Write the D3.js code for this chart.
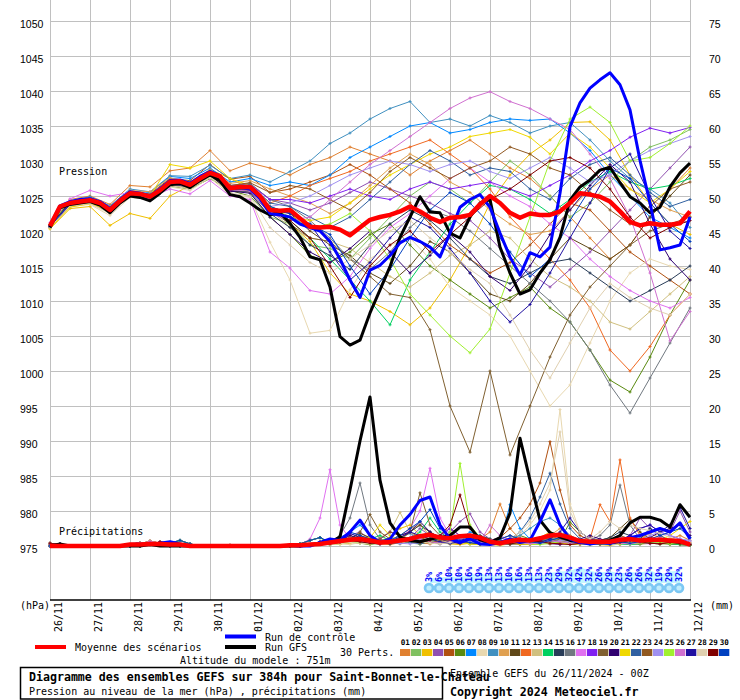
<!DOCTYPE html>
<html><head><meta charset="utf-8">
<script src="https://cdn.jsdelivr.net/npm/d3@7"></script>
<style>body{margin:0;background:#fff}svg{display:block}</style>
</head><body><svg id="c" width="740" height="700"></svg>
<script>
// ---------- labels ----------
const dates = ["26/11","27/11","28/11","29/11","30/11","01/12","02/12","03/12","04/12","05/12","06/12","07/12","08/12","09/12","10/12","11/12","12/12"];
const pressTicks = [975,980,985,990,995,1000,1005,1010,1015,1020,1025,1030,1035,1040,1045,1050];
const precTicks = [0,5,10,15,20,25,30,35,40,45,50,55,60,65,70,75];
const pctValues = [3,6,10,10,16,19,13,13,10,16,13,13,23,29,32,42,32,26,29,23,26,26,32,19,29,32];
const pertNames = ["01","02","03","04","05","06","07","08","09","10","11","12","13","14","15","16","17","18","19","20","21","22","23","24","25","26","27","28","29","30"];
const pertColors = ["#e08030","#80c060","#f0c000","#9050b0","#b05010","#5a8a10","#0088ff","#e8d8b0","#4090c0","#e0a050","#604818","#f06820","#d0c080","#00d060","#283c58","#707880","#e070f0","#8020f0","#806030","#300070","#f0d800","#3060a0","#905820","#a090f0","#a0f030","#d070d0","#2010a0","#e0d0b0","#800000","#0040c0"];

// ---------- main runs (6-hourly) ----------
const meanP = [1020.7,1023.5,1024.0,1024.2,1024.4,1024.0,1023.0,1024.3,1025.4,1025.3,1024.9,1025.8,1027.0,1027.1,1026.6,1027.5,1028.3,1027.8,1026.1,1026.3,1026.3,1025.0,1023.0,1022.9,1023.0,1021.8,1020.6,1020.5,1020.6,1020.2,1019.4,1020.5,1021.6,1022.0,1022.3,1022.8,1023.5,1022.8,1021.9,1021.3,1021.9,1022.0,1022.3,1023.8,1025.0,1024.0,1022.6,1021.9,1022.5,1022.3,1022.3,1022.8,1024.0,1025.4,1025.2,1024.9,1024.2,1022.8,1021.3,1020.8,1021.1,1020.9,1020.9,1021.1,1022.8];
const ctrlP = [1020.8,1023.6,1024.2,1024.5,1024.6,1024.2,1023.2,1024.5,1025.6,1025.4,1025.0,1026.0,1027.2,1027.3,1026.8,1027.8,1028.5,1027.9,1026.0,1026.2,1026.0,1024.6,1022.5,1022.3,1022.0,1021.0,1020.5,1020.0,1018.5,1016.0,1013.0,1010.5,1014.4,1015.1,1016.5,1018.3,1019.1,1018.5,1017.7,1016.3,1019.7,1023.4,1024.5,1025.2,1023.4,1019.7,1016.3,1013.7,1016.9,1016.3,1017.7,1025.4,1034.9,1038.3,1040.4,1041.6,1042.6,1040.9,1037.3,1030.1,1024.0,1017.3,1017.6,1018.0,1022.0];
const gfsP = [1020.5,1023.3,1023.8,1024.0,1024.2,1023.7,1022.6,1024.0,1025.0,1024.8,1024.3,1025.4,1026.6,1026.8,1026.2,1027.2,1028.0,1027.2,1025.2,1024.9,1024.0,1023.0,1022.3,1022.6,1021.1,1019.1,1016.3,1015.9,1012.0,1004.9,1003.7,1004.4,1008.3,1011.6,1014.9,1019.1,1022.0,1024.9,1022.7,1022.6,1019.7,1019.0,1022.0,1024.0,1024.5,1017.7,1014.0,1011.0,1011.6,1014.0,1015.9,1019.1,1024.4,1026.3,1027.3,1028.7,1029.1,1026.9,1024.9,1024.0,1022.6,1023.4,1026.3,1028.3,1029.7];
const meanR = [0,0,0,0,0,0,0,0,.2,.2,.3,.3,.2,.2,0,0,0,0,0,0,0,0,0,0,.1,.1,.2,.3,.5,.7,.9,1,.8,.5,.6,.8,1,1.4,1.6,1.2,1.1,1.4,1.5,1.2,.6,.4,.7,.9,.8,1.1,1.5,1.6,1.2,.7,.6,.6,.6,.9,1,.8,.9,.9,.8,.7,.2];
const ctrlR = [0,0,0,0,0,0,0,0,.2,.3,.2,.4,.6,.3,0,0,0,0,0,0,0,0,0,0,.1,0,0,.5,1,.8,2,3.7,1.5,.5,1,3,4.5,6.5,7,3,1,.5,1,.3,.2,.5,1,.5,.8,3.5,6.6,3,1,.5,.3,.5,.4,.8,1.2,1.5,2,2.5,2,3.3,1];
const gfsR = [0,.3,0,0,0,0,0,0,0,0,.2,0,0,0,0,0,0,0,0,0,0,0,0,0,0,0,.2,.3,.5,1.3,8,15,21.3,9.4,3.3,1.3,.8,.6,1,1.2,1.5,2.7,2.7,.9,.5,1.2,4.7,15.4,9.4,3.7,1.9,1.3,.8,.6,.5,.6,.8,1.5,3.3,4.1,4.1,3.7,2.7,5.9,4.1];

// ---------- perturbations, pressure (12-hourly) ----------
const pp01 = [1021.0,1024.5,1025.0,1023.8,1026.5,1026.3,1028.6,1029.0,1031.5,1028.6,1029.7,1029.0,1028.0,1029.5,1030.5,1032.0,1031.0,1030.0,1028.0,1030.0,1031.5,1033.0,1031.0,1029.0,1027.5,1025.0,1022.0,1019.0,1016.0,1018.0,1022.0,1026.0,1029.0];
const pp02 = [1020.5,1023.8,1024.0,1022.8,1025.0,1024.6,1026.6,1026.0,1027.8,1025.8,1025.5,1022.0,1021.0,1018.0,1017.5,1016.0,1019.0,1022.0,1025.0,1027.0,1026.0,1024.0,1027.0,1030.0,1028.0,1025.0,1022.0,1024.0,1027.0,1030.0,1032.0,1033.0,1034.5];
const pp03 = [1020.3,1023.2,1023.5,1020.8,1022.5,1021.8,1025.0,1026.5,1028.8,1027.5,1026.0,1023.5,1021.0,1018.5,1014.0,1011.0,1010.0,1008.5,1006.6,1009.0,1013.0,1018.0,1024.0,1028.0,1031.0,1033.0,1035.5,1035.6,1033.0,1028.0,1024.0,1021.0,1019.5];
const pp04 = [1020.8,1024.2,1024.8,1023.4,1025.8,1025.2,1027.4,1026.8,1028.6,1026.5,1026.8,1024.5,1024.0,1023.0,1024.0,1025.5,1027.0,1026.0,1025.0,1024.0,1022.5,1021.5,1019.0,1016.0,1014.0,1012.0,1014.5,1017.0,1020.0,1023.0,1026.0,1029.0,1032.0];
const pp05 = [1020.6,1023.9,1024.5,1023.3,1025.6,1025.3,1027.5,1027.2,1029.5,1027.4,1027.8,1025.5,1026.0,1027.0,1028.0,1029.5,1028.0,1026.0,1024.0,1021.0,1018.0,1016.0,1014.0,1015.5,1018.0,1021.0,1024.0,1023.0,1020.0,1017.0,1015.0,1013.0,1011.0];
const pp06 = [1020.9,1024.0,1024.3,1022.8,1025.2,1024.4,1026.4,1026.0,1027.5,1025.8,1025.0,1022.0,1019.5,1016.5,1015.5,1017.0,1019.5,1021.0,1018.0,1015.0,1013.0,1011.0,1009.0,1010.5,1012.0,1009.0,1007.0,1003.0,998.7,997.0,1002.0,1008.0,1013.0];
const pp07 = [1020.8,1024.2,1024.6,1023.3,1025.7,1025.5,1027.8,1027.5,1029.0,1027.0,1027.5,1026.5,1027.0,1026.5,1028.0,1030.5,1032.0,1033.5,1035.0,1035.5,1034.0,1034.5,1035.5,1036.0,1035.8,1036.0,1034.0,1031.5,1028.0,1025.0,1022.0,1020.5,1019.0];
const pp08 = [1020.4,1023.5,1023.8,1022.2,1024.8,1024.5,1026.3,1025.8,1027.6,1025.2,1024.8,1018.4,1013.0,1005.4,1005.8,1011.6,1016.0,1018.0,1019.0,1016.0,1012.0,1010.0,1008.0,1005.0,1000.0,995.0,998.0,1004.0,1010.0,1014.0,1016.0,1015.0,1014.5];
const pp09 = [1020.9,1024.3,1024.9,1023.6,1026.0,1025.6,1027.9,1027.8,1029.4,1027.5,1028.0,1027.0,1028.5,1030.0,1032.5,1034.0,1036.0,1037.5,1038.5,1035.5,1036.0,1035.0,1036.5,1035.5,1034.0,1035.0,1035.5,1033.0,1030.0,1027.5,1026.0,1024.0,1020.5];
const pp10 = [1020.6,1024.0,1024.6,1023.5,1025.8,1025.6,1027.6,1027.0,1028.8,1026.8,1027.2,1026.0,1025.0,1024.0,1022.5,1024.0,1026.5,1029.0,1031.0,1029.5,1027.0,1025.5,1023.0,1021.0,1019.5,1020.0,1023.0,1026.0,1028.0,1026.0,1024.5,1023.0,1022.0];
const pp11 = [1020.5,1023.7,1024.1,1022.6,1025.0,1024.5,1026.8,1026.9,1028.0,1025.6,1025.8,1023.5,1022.5,1020.0,1018.0,1016.5,1014.0,1012.5,1015.0,1018.5,1017.0,1014.0,1011.0,1010.0,1012.5,1016.0,1019.0,1017.5,1016.0,1018.0,1022.0,1025.0,1028.0];
const pp12 = [1020.7,1024.1,1024.5,1023.2,1025.3,1025.0,1027.2,1026.5,1028.5,1026.2,1026.5,1024.0,1025.0,1026.5,1027.5,1028.5,1030.0,1031.0,1032.0,1033.0,1031.0,1029.0,1026.0,1022.0,1019.0,1016.0,1013.0,1009.0,1003.0,1000.0,1003.5,1008.0,1011.0];
const pp13 = [1020.5,1023.6,1024.0,1022.7,1025.0,1024.8,1026.6,1026.2,1028.1,1026.0,1025.5,1023.0,1020.5,1019.0,1018.5,1017.5,1015.5,1013.5,1012.0,1014.0,1016.5,1018.0,1020.0,1019.0,1016.0,1013.5,1012.0,1010.0,1007.0,1006.0,1008.5,1011.0,1013.5];
const pp14 = [1020.8,1024.0,1024.4,1022.9,1025.3,1024.6,1026.9,1026.3,1028.1,1025.9,1026.0,1023.5,1021.5,1019.0,1016.0,1013.0,1010.0,1006.6,1013.0,1017.0,1021.0,1024.0,1026.5,1026.0,1024.5,1022.5,1024.5,1027.0,1028.5,1027.0,1026.0,1026.5,1027.5];
const pp15 = [1020.6,1023.8,1024.2,1022.9,1025.2,1024.7,1026.9,1026.4,1028.2,1025.8,1025.6,1022.5,1020.5,1018.0,1016.5,1014.5,1018.0,1021.0,1023.0,1021.5,1019.0,1016.0,1013.5,1012.5,1014.0,1015.5,1016.0,1014.0,1012.0,1010.0,1011.5,1013.0,1015.0];
const pp16 = [1020.9,1024.2,1024.7,1023.3,1025.6,1025.2,1027.3,1027.0,1028.6,1026.4,1026.8,1024.5,1023.5,1021.5,1019.0,1016.0,1014.5,1017.0,1020.5,1023.0,1022.0,1020.0,1017.5,1015.0,1012.5,1010.0,1007.0,1003.0,998.0,994.0,999.0,1004.0,1009.0];
const pp17 = [1021.2,1024.6,1025.8,1025.0,1025.5,1024.8,1026.0,1025.3,1027.2,1025.0,1024.5,1017.0,1014.7,1011.5,1011.0,1013.5,1017.5,1020.5,1022.5,1025.0,1027.5,1029.0,1027.0,1025.0,1023.5,1021.0,1019.0,1016.0,1013.5,1011.5,1010.0,1009.0,1010.5];
const pp18 = [1020.7,1024.1,1024.5,1023.1,1025.5,1025.1,1027.2,1026.8,1028.3,1026.4,1026.6,1024.5,1024.5,1024.0,1025.0,1026.0,1025.0,1024.5,1026.0,1027.0,1026.0,1026.5,1027.0,1026.0,1025.0,1026.5,1028.0,1030.0,1031.5,1033.4,1034.7,1034.0,1034.8];
const pp19 = [1020.6,1023.9,1024.3,1022.9,1025.3,1024.9,1027.0,1026.7,1028.4,1026.2,1026.3,1023.0,1021.0,1019.0,1018.5,1016.0,1013.5,1011.0,1010.5,1005.9,995.0,988.4,1000.0,988.0,995.0,1002.0,1008.0,1012.0,1015.0,1018.0,1020.0,1021.0,1022.0];
const pp20 = [1020.5,1023.7,1024.2,1022.8,1025.1,1024.6,1026.7,1026.3,1028.0,1025.7,1025.4,1022.0,1019.5,1017.0,1015.5,1017.5,1020.0,1017.0,1014.0,1016.5,1019.5,1017.0,1013.5,1011.5,1015.0,1019.5,1023.0,1026.5,1029.5,1027.0,1021.0,1016.0,1013.0];
const pp21 = [1020.4,1023.4,1023.9,1023.0,1025.0,1025.0,1029.5,1029.0,1030.0,1027.5,1026.5,1023.0,1022.0,1021.5,1022.0,1024.0,1026.0,1028.0,1029.5,1031.0,1032.0,1033.5,1034.0,1034.5,1033.4,1031.0,1034.0,1032.0,1029.0,1026.0,1024.0,1026.0,1028.5];
const pp22 = [1020.8,1024.1,1024.6,1023.2,1025.5,1025.0,1027.2,1026.7,1028.5,1026.3,1026.6,1024.0,1023.5,1022.0,1020.5,1022.0,1024.5,1027.0,1029.5,1031.5,1030.0,1028.0,1029.0,1028.5,1026.0,1024.5,1027.5,1029.5,1030.5,1028.0,1025.5,1023.5,1024.5];
const pp23 = [1020.7,1024.0,1024.5,1023.1,1025.4,1025.0,1027.1,1026.8,1028.5,1026.5,1026.9,1025.5,1026.5,1026.0,1024.5,1023.0,1025.5,1028.5,1030.5,1029.0,1027.5,1029.0,1030.0,1032.0,1031.0,1029.0,1028.0,1025.5,1023.0,1021.0,1023.5,1026.0,1027.0];
const pp24 = [1020.6,1023.9,1024.4,1023.0,1025.3,1024.9,1026.9,1026.6,1028.2,1026.1,1026.0,1023.5,1024.0,1025.0,1026.5,1028.0,1029.0,1030.0,1029.5,1028.5,1029.5,1030.0,1028.5,1027.5,1029.0,1030.5,1029.0,1027.0,1028.0,1030.0,1031.5,1032.5,1033.5];
const pp25 = [1020.9,1024.2,1024.6,1023.1,1025.5,1024.9,1027.0,1026.5,1028.2,1026.0,1026.4,1023.5,1022.0,1020.5,1021.0,1022.5,1020.0,1016.0,1011.0,1008.0,1005.0,1002.6,1006.0,1014.0,1022.0,1030.0,1036.0,1037.7,1035.5,1030.0,1030.5,1032.5,1035.0];
const pp26 = [1020.7,1024.0,1024.3,1022.9,1025.3,1024.7,1026.8,1026.4,1028.1,1025.9,1025.7,1022.5,1021.5,1022.0,1024.5,1027.0,1029.5,1031.5,1033.5,1035.5,1037.5,1039.0,1039.9,1038.5,1037.5,1036.0,1034.5,1031.0,1027.5,1022.0,1014.0,1004.3,1008.5];
const pp27 = [1020.6,1023.9,1024.4,1023.0,1025.4,1025.0,1027.0,1026.5,1028.3,1026.1,1026.2,1023.0,1022.5,1021.0,1017.0,1013.0,1015.5,1019.0,1022.0,1020.5,1017.5,1014.0,1010.0,1007.0,1009.5,1014.0,1019.0,1024.0,1029.0,1031.0,1025.0,1020.0,1017.5];
const pp28 = [1020.5,1023.6,1023.9,1022.5,1025.0,1024.5,1026.5,1026.0,1027.8,1025.4,1025.0,1020.5,1018.0,1015.5,1014.0,1016.0,1018.0,1020.0,1021.5,1019.0,1017.0,1014.5,1012.5,1008.0,1003.0,999.0,1004.0,1009.0,1012.5,1010.5,1009.0,1008.0,1011.0];
const pp29 = [1020.8,1024.1,1024.5,1023.0,1025.4,1024.9,1027.0,1026.6,1028.3,1026.0,1026.0,1023.0,1021.5,1019.0,1015.0,1010.5,1015.0,1018.0,1020.0,1017.0,1019.5,1022.0,1024.5,1026.0,1028.0,1030.0,1030.5,1029.0,1026.0,1022.0,1019.0,1020.5,1021.5];
const pp30 = [1020.7,1024.0,1024.4,1022.9,1025.3,1024.8,1026.9,1026.5,1028.2,1026.0,1026.1,1023.5,1022.5,1021.0,1019.5,1015.0,1011.0,1014.5,1019.0,1023.0,1025.5,1024.0,1021.0,1017.0,1013.5,1016.0,1021.5,1026.0,1029.0,1027.5,1024.0,1021.0,1018.5];

// ---------- perturbations, precipitation (6-hourly): first 7 days, then the rest ----------
const eA = [0,.3,0,0,0,0,0,0,0,.2,.4,.3,0,0,0,0,0,0,0,0,0,0,0,0,0,0,.1,.3];
const eB = [0,0,0,0,0,0,0,0,.2,.5,.3,.2,0,0,0,0,0,0,0,0,0,0,0,0,0,.1,.2,.4];
const eC = [.4,.2,0,0,0,0,0,0,0,0,.2,.6,.4,.2,0,0,0,0,.1,0,0,0,0,0,0,0,.2,.6];
const eD = [0,0,0,0,0,0,0,0,0,0,.3,.2,.4,.8,.3,0,0,0,0,0,0,0,0,0,.1,.3,.8,1.2];
const eE = [.2,0,0,0,0,0,0,0,0,.3,.7,.4,.2,0,0,0,0,0,0,0,0,0,0,0,0,0,.2,.5];
const eF = [0,.3,0,0,0,0,0,0,0,.2,.6,.4,0,0,0,0,0,0,0,0,0,0,0,0,0,.2,1,4];
const rr01 = eA.concat([.5,.8,1,1.5,.8,.5,.3,.6,1,1.5,2,1.2,.8,1,1.5,1,2,6,2.5,1,.5,.8,1.2,.6,.3,.2,.4,.5,.8,1.2,1,.6,.5,.8,1,1.5,.8]);
const rr02 = eB.concat([.2,.5,1.2,.8,.4,.2,.5,1,.6,.3,.8,1.5,1,.5,.3,.2,.5,.8,.4,.2,.3,.6,1,1.5,.8,.4,.2,.3,.5,.3,.2,.4,.6,.3,.2,.5,.3]);
const rr03 = eC.concat([.3,.6,.4,1,1.5,.8,1.2,2.5,3,1.5,1,.5,.3,.2,.4,.3,.2,.1,.3,.5,.8,1.2,2,1.5,.8,.5,.3,.2,.1,.3,.5,.8,.6,.4,.3,.5,.2]);
const rr04 = eD.concat([.4,.8,1.5,2,1,.6,.4,.8,1.2,2.5,1.5,1,2,3.5,4.6,2,1,.5,.3,.6,1,.5,.3,.2,.5,.8,1.2,.8,.5,.6,1.5,4,2.5,1.5,2,5,2]);
const rr05 = eE.concat([.3,.5,.8,1.5,1,.5,.8,1.5,2,1.2,.8,1.5,2.5,1.5,1,.5,.8,1.2,2.5,4,6,9,14.9,8,3,1.5,.8,.5,.3,.2,.5,.8,1.2,1,.6,.4,.3]);
const rr06 = eA.concat([.2,.3,.5,.4,.2,.5,1,.8,.4,.3,.6,1,.8,.5,.3,.2,.4,.6,1,1.5,1,.8,.5,.8,3.4,2,1,.8,.5,.4,.6,1,.8,.5,.3,.4,.2]);
const rr07 = eB.concat([.5,1,2,3,1.5,.8,.5,1,2,3,2,1,.6,1,2,1.5,1,.5,5.9,2.5,1,.6,.4,.3,.5,.8,.5,.3,.2,.3,.6,1,.8,.5,.3,.2,.2]);
const rr08 = eC.concat([.2,.3,.2,.5,.8,.4,.3,.5,.8,1,.6,.3,.5,1,1.5,1,.6,.4,.8,1.5,3,5,8,19.5,6,2,1,.5,.3,.2,.3,.5,.4,.3,.2,.3,.2]);
const rr09 = eD.concat([.4,.6,1,.8,.5,.3,.6,1.2,1.8,1,.6,.4,.8,1.2,.8,.5,.3,.6,1,1.5,2.5,3.5,4,3,1.5,.8,.5,.3,.5,.8,1.2,1.5,1,.6,.4,.5,.3]);
const rr10 = eE.concat([.3,.8,1.5,1,.6,.4,.8,1.5,2.5,3,1.5,.8,.5,.3,.6,1,.8,.5,.3,.2,.4,.8,1.5,2.5,1.5,.8,.4,.3,.5,.8,.6,1,1.8,1.2,.8,1,.5]);
const rr11 = eA.concat([.2,.5,1,1.8,1.2,.6,.4,1,2,3,2,1.2,.6,.4,.8,1.5,1,.6,.4,.3,.5,1,.8,.5,.3,.2,.4,.8,1.2,2.5,3.8,2,1,.5,.3,.2,.1]);
const rr12 = eB.concat([.3,.4,.8,1.2,.6,.3,.2,.5,.8,.5,.3,.6,1,.8,.5,.4,.6,.8,.5,.3,.5,1,1.5,1,.6,.5,1,5.9,3.5,12.3,4,1.5,.8,.5,.3,.2,.1]);
const rr13 = eC.concat([.2,.4,.6,1,.8,1.2,2,4.8,2,1,.3,.5,.8,.5,.3,.2,.4,.6,.4,.3,.5,.8,1.2,2,1.2,.6,.4,.3,.5,.4,.3,.2,.4,.6,.4,.3,.2]);
const rr14 = eD.concat([.3,.5,.8,.6,1,1.5,.8,.5,1,2,4,2,1,.6,.4,.3,.5,.8,.6,.4,.3,.5,1,.8,.5,.3,.2,.4,.6,.3,.2,.3,.5,.4,.3,.2,.1]);
const rr15 = eE.concat([.2,.4,.8,1.2,.8,.5,.3,.6,1,.8,.5,.3,.6,1,1.5,1,.6,.4,.3,.5,.8,1.2,1,.6,.4,.3,.5,.8,1.2,2,1.5,1,2.5,1.5,.8,.5,.3]);
const rr16 = eA.concat([.5,1.5,4,9,3,1,.5,.3,.6,1,.8,.5,.3,.6,1,.8,.5,.3,.2,.4,.6,.8,1.2,1,.6,.4,.8,1.5,3,8.7,3,1,.6,.4,.3,.5,.3]);
const rr17 = eF.concat([10.9,3,1,.6,.4,.3,.5,1,2.5,5,11.1,4,1.5,1,.6,.4,.8,1.2,.8,.5,.3,.5,.8,.6,.4,.3,.2,.4,.6,.8,.6,.4,.3,.5,.8,.6,.3]);
const rr18 = eB.concat([.3,.6,1,.8,.5,1,2,1.5,.8,.6,1,1.5,2.5,1.5,1,.6,.4,.3,.5,.8,1,.6,.4,.3,.5,.8,.6,.4,.5,.8,1.5,2.5,3,2,1.5,1,.6]);
const rr19 = eC.concat([.2,.5,1,2,4.5,2,1,.8,2,7.6,3,1.5,1,.6,.4,.3,.5,.8,.5,.3,.2,.4,.6,1,.8,.5,.3,.2,.4,.6,.4,.3,.5,.8,.6,.4,.2]);
const rr20 = eD.concat([.4,.8,1.5,1,.6,.4,.8,1.5,2,3.5,2,1,.6,.4,.8,1,.6,.4,.3,.6,1,.8,.5,.3,.5,1,1.5,1,.6,.4,.5,.8,1.2,2,2.5,3,1.5]);
const rr21 = eE.concat([.2,.3,.5,.8,1.2,3,1.5,.8,.5,.3,.6,1,.8,.5,.3,.2,.4,.6,.4,.3,.2,.3,.5,.4,.3,.2,.3,.5,.4,.3,.5,.8,1,.8,1.5,2.5,3.5]);
const rr22 = eA.concat([.3,.5,.8,.6,.4,.6,1,.8,.5,.3,.6,1,.8,.5,.8,1.2,.8,.5,1,2,4,7,10.4,6,2.5,1,.6,.4,.3,.5,.8,.6,.4,.3,.5,.4,.2]);
const rr23 = eB.concat([.4,.8,1.2,.8,.5,1,2,1.5,1,.6,.4,.8,1.2,.8,.5,.3,.6,1,1.5,1,.6,.4,.3,.5,.8,.6,.4,.6,1,1.5,1,.6,.4,.3,.5,.3,.2]);
const rr24 = eC.concat([.3,.5,1,.8,.5,.3,.6,.4,.3,.5,.8,1.2,2,1.2,.6,.4,.3,.2,.4,.6,.4,.3,.5,.8,.6,.4,.3,.5,.8,1.2,1,.8,1.5,2,1.5,1,.8]);
const rr25 = eD.concat([.2,.4,.6,.4,.3,.5,.8,1.2,.8,.5,.6,1,2,11.8,3,1.2,.6,.4,.3,.5,.3,.2,.4,.6,.4,.3,.2,.4,.6,.5,.3,.4,.6,.5,.3,.6,.4]);
const rr26 = eE.concat([.3,.6,1,.8,.5,.3,.5,.8,1.2,1,.6,.4,.6,1,.8,.6,3,1.5,.8,.5,.3,.5,.8,.6,.4,.3,.5,.8,.6,.4,.3,.5,.8,1.2,.8,.5,.3]);
const rr27 = eA.concat([.5,1,1.8,1.2,.8,.5,.8,1.2,2,1.5,1,.6,.4,.8,1.2,.8,.5,.3,.6,1,.8,.5,1,2,4,2,1,.6,.4,.8,1.5,2.5,3,2,3,5.5,2.5]);
const rr28 = eB.concat([.2,.3,.5,.4,.3,.5,.8,1.5,1,.6,.4,.3,.5,.8,.6,.4,.3,.5,1,2,3.5,6,9,16.3,5,2,1,2,3.5,2.5,3,2.5,2.2,1.8,1.2,.8,.5]);
const rr29 = eC.concat([.3,.5,.8,.6,.4,.3,.6,1,.8,.5,.8,1.5,3,7.3,2.5,1,.6,.4,.3,.5,.8,.6,.4,.3,.2,.4,.6,.4,.3,.5,.8,.6,.4,.3,.5,.4,.2]);
const rr30 = eD.concat([.6,1.2,2,1.5,1,.6,.8,1.5,2.5,3.5,5.2,2.5,1.2,.8,.5,.3,.6,1,1.5,1,.6,.4,.8,1.2,.8,.5,.3,.5,.8,.6,.4,.6,1,1.5,2,2.5,1.2]);

const pertP = [pp01,pp02,pp03,pp04,pp05,pp06,pp07,pp08,pp09,pp10,pp11,pp12,pp13,pp14,pp15,pp16,pp17,pp18,pp19,pp20,pp21,pp22,pp23,pp24,pp25,pp26,pp27,pp28,pp29,pp30];
const pertR = [rr01,rr02,rr03,rr04,rr05,rr06,rr07,rr08,rr09,rr10,rr11,rr12,rr13,rr14,rr15,rr16,rr17,rr18,rr19,rr20,rr21,rr22,rr23,rr24,rr25,rr26,rr27,rr28,rr29,rr30];

// ---------- drawing ----------
const svg = d3.select("#c");
const MONO = "'DejaVu Sans Mono', 'Liberation Mono', monospace";
const SANS = "'Liberation Sans', Arial, sans-serif";
const x = d3.scaleLinear().domain([0, 384]).range([50, 690]);
const yP = d3.scaleLinear().domain([975, 1050]).range([546, 21]);
const yR = d3.scaleLinear().domain([0, 75]).range([546, 21]);
const dayHours = dates.map((d, i) => i * 24);

// grid
const grid = svg.append("g").attr("stroke", "#c0c0c0").attr("stroke-width", 1);
grid.selectAll("line.v").data(dayHours).join("line")
  .attr("x1", d => Math.round(x(d)) + 0.5).attr("x2", d => Math.round(x(d)) + 0.5)
  .attr("y1", 0).attr("y2", 600);
grid.selectAll("line.h").data(pressTicks).join("line")
  .attr("x1", 50).attr("x2", 690.5)
  .attr("y1", d => Math.round(yP(d)) + 0.5).attr("y2", d => Math.round(yP(d)) + 0.5);
svg.append("line").attr("x1", 50).attr("x2", 691).attr("y1", 600).attr("y2", 600)
  .attr("stroke", "#000").attr("stroke-width", 1.5);

// axes labels
const leftAxis = d3.axisLeft(yP).tickValues(pressTicks).tickSize(0).tickFormat(d3.format("d"));
const la = svg.append("g").attr("transform", "translate(50,0)").call(leftAxis);
la.select(".domain").remove();
la.selectAll("text").attr("x", -30).attr("dy", null).attr("y", 6).attr("text-anchor", "start")
  .attr("font-family", SANS).attr("font-size", 10.5).attr("fill", "#000");
const rightAxis = d3.axisRight(yR).tickValues(precTicks).tickSize(0).tickFormat(d3.format("d"));
const ra = svg.append("g").attr("transform", "translate(690,0)").call(rightAxis);
ra.select(".domain").remove();
ra.selectAll("text").attr("x", 19).attr("dy", null).attr("y", 6).attr("text-anchor", "start")
  .attr("font-family", SANS).attr("font-size", 10.5).attr("fill", "#000");

svg.selectAll("text.date").data(dates).join("text")
  .attr("transform", (d, i) => `translate(${x(dayHours[i]) + 12},602) rotate(-90)`)
  .attr("text-anchor", "end").attr("font-family", MONO).attr("font-size", 10).text(d => d);

function txt(s, tx, ty, size, opts = {}) {
  return svg.append("text").attr("x", tx).attr("y", ty).attr("font-family", MONO)
    .attr("font-size", size).attr("font-weight", opts.bold ? "bold" : "normal")
    .attr("fill", opts.fill || "#000").attr("text-anchor", opts.anchor || "start").text(s);
}
txt("(hPa)", 20, 609, 10);
txt("(mm)", 710, 609, 10);
txt("Pression", 59, 175, 10);
txt("Précipitations", 59, 535, 10);

// series drawing
const lineGen = (step, ys) => d3.line().x((d, i) => x(i * step)).y(d => ys(d));
function crosses(data, step, ys) {
  return data.map((d, i) => {
    const cx = x(i * step), cy = ys(d);
    return `M${cx - 1.5},${cy}h3M${cx},${cy - 1.5}v3`;
  }).join("");
}
const pg = svg.append("g").attr("fill", "none");
pertP.forEach((arr, k) => {
  pg.append("path").attr("d", lineGen(12, yP)(arr)).attr("stroke", pertColors[k]).attr("stroke-width", 1);
  pg.append("path").attr("d", crosses(arr, 12, yP)).attr("stroke", pertColors[k]).attr("stroke-width", 1);
});
pertR.forEach((arr, k) => {
  pg.append("path").attr("d", lineGen(6, yR)(arr)).attr("stroke", pertColors[k]).attr("stroke-width", 1);
  pg.append("path").attr("d", crosses(arr, 6, yR)).attr("stroke", pertColors[k]).attr("stroke-width", 1);
});
const mg = svg.append("g").attr("fill", "none").attr("stroke-linejoin", "round");
mg.append("path").attr("d", lineGen(6, yP)(gfsP)).attr("stroke", "#000").attr("stroke-width", 3);
mg.append("path").attr("d", lineGen(6, yR)(gfsR)).attr("stroke", "#000").attr("stroke-width", 3);
mg.append("path").attr("d", lineGen(6, yP)(ctrlP)).attr("stroke", "#0000ff").attr("stroke-width", 3);
mg.append("path").attr("d", lineGen(6, yR)(ctrlR)).attr("stroke", "#0000ff").attr("stroke-width", 3);
mg.append("path").attr("d", lineGen(6, yP)(meanP)).attr("stroke", "#ff0000").attr("stroke-width", 4.5);
mg.append("path").attr("d", lineGen(6, yR)(meanR)).attr("stroke", "#ff0000").attr("stroke-width", 4.5);

// snow probability band
const pctH = pctValues.map((d, i) => 228 + 6 * i);
const band = d3.area().x((d, i) => x(pctH[i])).y0(583).y1(d => 583 - (4 + d * 0.26)).curve(d3.curveMonotoneX);
svg.append("path").attr("d", band(pctValues)).attr("fill", "#c4f6ff");
const sn = svg.append("g");
pctValues.forEach((d, i) => {
  const cx = x(pctH[i]) - 1;
  sn.append("circle").attr("cx", cx).attr("cy", 588).attr("r", 5.3).attr("fill", "#7cc8f4");
  sn.append("circle").attr("cx", cx).attr("cy", 588).attr("r", 2.6).attr("fill", "#c0ecfc");
});
svg.selectAll("text.pct").data(pctValues).join("text")
  .attr("transform", (d, i) => `translate(${x(pctH[i]) + 2},582) rotate(-90)`)
  .attr("font-family", MONO).attr("font-size", 8.5).attr("font-weight", "bold")
  .attr("fill", "#0000ff").text(d => d + "%");

// legend
svg.append("rect").attr("x", 35).attr("y", 645).attr("width", 31).attr("height", 4).attr("fill", "#ff0000");
txt("Moyenne des scénarios", 75, 651, 10);
svg.append("rect").attr("x", 225).attr("y", 634.5).attr("width", 31).attr("height", 4).attr("fill", "#0000ff");
svg.append("rect").attr("x", 225).attr("y", 645).attr("width", 31).attr("height", 4).attr("fill", "#000");
txt("Run de contrôle", 265, 641, 10);
txt("Run GFS", 265, 651, 10);
txt("Altitude du modele : 751m", 180, 664, 10);
txt("30 Perts.", 340, 656, 10);
pertNames.forEach((n, k) => {
  const sx = 400 + 11 * k;
  svg.append("rect").attr("x", sx).attr("y", 649).attr("width", 10.3).attr("height", 7).attr("fill", pertColors[k]);
  txt(n, sx + 5.3, 645, 7.6, {bold: true, anchor: "middle"});
});

// title box
svg.append("rect").attr("x", 20.5).attr("y", 667.5).attr("width", 422).attr("height", 31.5)
  .attr("fill", "none").attr("stroke", "#000").attr("stroke-width", 1.5);
txt("Ensemble GEFS du 26/11/2024 - 00Z", 450, 677, 10);
txt("Diagramme des ensembles GEFS sur 384h pour Saint-Bonnet-le-Chateau", 29, 681, 11.6, {bold: true});
txt("Pression au niveau de la mer (hPa) , précipitations (mm)", 29, 695, 10);
txt("Copyright 2024 Meteociel.fr", 450, 696, 11.6, {bold: true});
</script></body></html>
